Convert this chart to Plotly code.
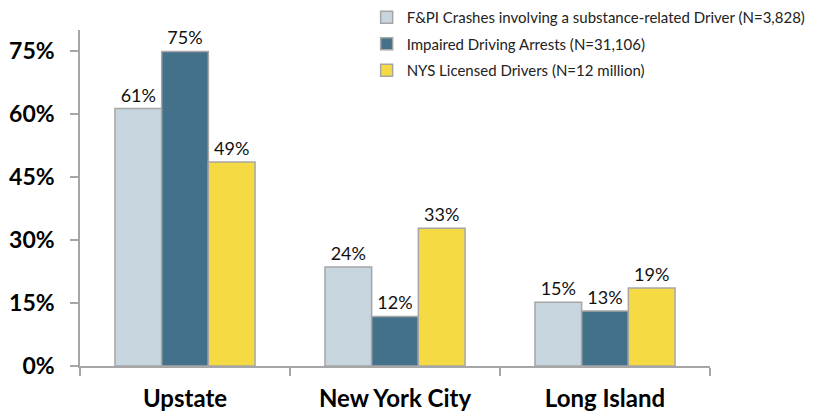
"""Grouped bar chart: substance-related crashes, arrests and licensed drivers by region."""

import plotly.graph_objects as go

# ── Data ──────────────────────────────────────────────────────────────
regions = ["Upstate", "New York City", "Long Island"]

series_names = [
    "F&PI Crashes involving a substance-related Driver (N=3,828)",
    "Impaired Driving Arrests (N=31,106)",
    "NYS Licensed Drivers (N=12 million)",
]
crashes = [61.3, 23.6, 15.2]
arrests = [74.9, 11.8, 13.1]
drivers = [48.6, 32.8, 18.6]

y_ticks = [0, 15, 30, 45, 60, 75]

# ── Style ─────────────────────────────────────────────────────────────
COLORS = ["#C7D5DE", "#44718A", "#F5DA43"]
OUTLINE = "#A6A6A6"
FONT = "Lato"

fig = go.Figure()
for name, vals, color in zip(series_names, [crashes, arrests, drivers], COLORS):
    fig.add_trace(
        go.Bar(
            x=regions,
            y=vals,
            name=name,
            legendgroup=name,
            marker=dict(color=color, line=dict(color=OUTLINE, width=1.5)),
            text=[f"{round(v)}%" for v in vals],
            textposition="outside",
            textfont=dict(size=18, color="#111111", family=FONT),
            cliponaxis=False,
        )
    )

# page body has an 8px margin, so the figure is sized to the visible area
fig.update_layout(
    width=816,
    height=405,
    barmode="group",
    bargap=0.333,
    bargroupgap=0,
    paper_bgcolor="white",
    plot_bgcolor="white",
    font=dict(family=FONT, color="#111111"),
    margin=dict(l=72, r=114, t=22, b=47, autoexpand=False),
    showlegend=True,
    legend=dict(
        x=0.455,
        y=1.086,
        xanchor="left",
        yanchor="top",
        font=dict(size=15, color="#222222", family=FONT),
        tracegroupgap=4,
        bgcolor="rgba(0,0,0,0)",
        itemwidth=30,
    ),
)

fig.update_xaxes(
    showline=True,
    linecolor=OUTLINE,
    linewidth=1.5,
    ticks="outside",
    tickson="boundaries",
    ticklen=8,
    tickcolor=OUTLINE,
    tickwidth=1.5,
    ticklabelstandoff=10,
    tickfont=dict(size=24, family=FONT, color="#000000", weight="bold"),
    showgrid=False,
)
fig.update_yaxes(
    range=[0, 80],
    tickvals=y_ticks,
    ticktext=[f"{v}%" for v in y_ticks],
    showline=True,
    linecolor=OUTLINE,
    linewidth=1.5,
    ticks="outside",
    ticklen=8,
    tickcolor=OUTLINE,
    tickwidth=1.5,
    ticklabelstandoff=11,
    tickfont=dict(size=23, family=FONT, color="#000000", weight="bold"),
    showgrid=False,
    zeroline=False,
)

fig.write_html("out.html")
